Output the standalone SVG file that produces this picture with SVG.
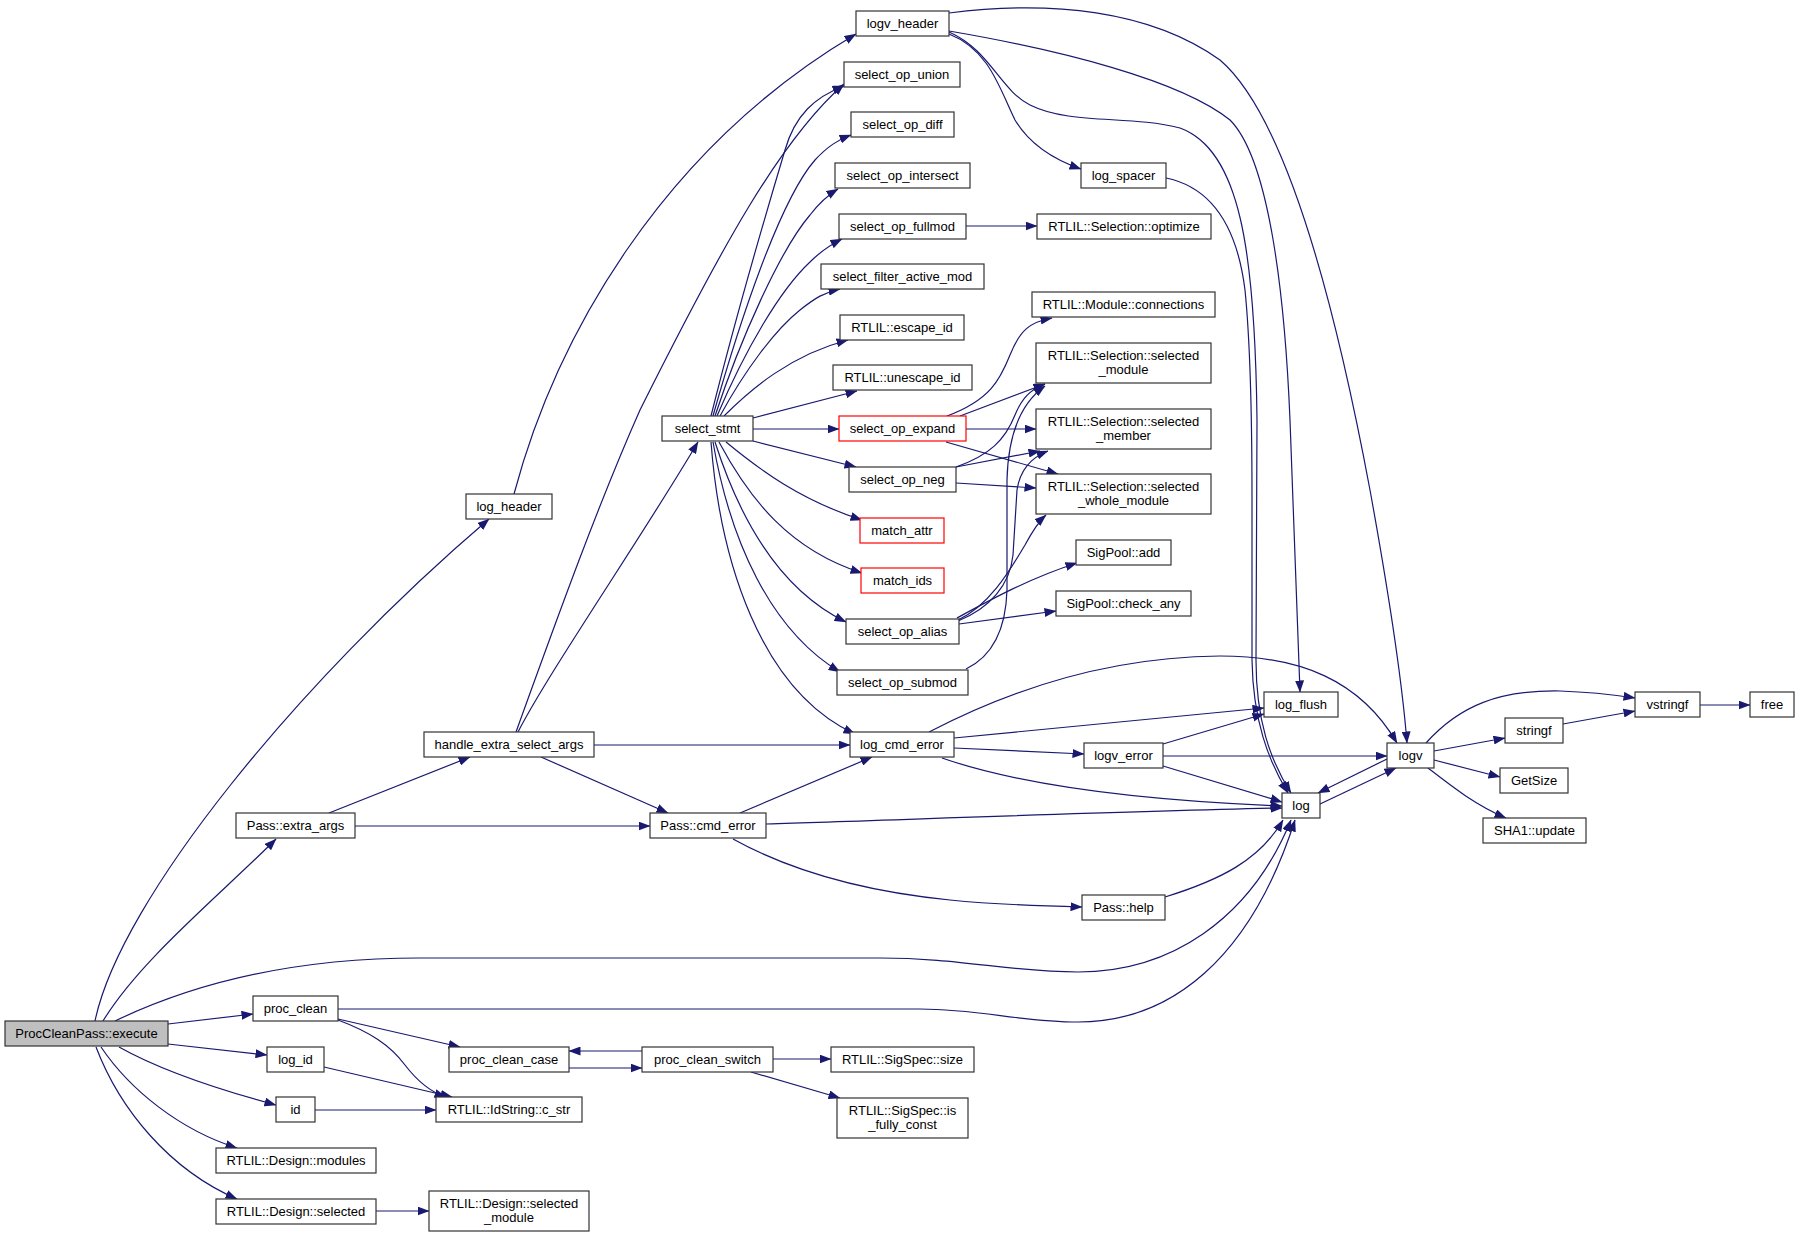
<svg xmlns="http://www.w3.org/2000/svg" width="1800" height="1237" viewBox="0 0 1800 1237">
<defs>
<style>
.n rect{fill:#ffffff;stroke:#333333;stroke-width:1.2}
.n.root rect{fill:#bfbfbf}
.n.red rect{stroke:#ff0000}
.n text{font-family:"Liberation Sans",Arial,sans-serif;font-size:13px;fill:#000000;text-anchor:middle}
#edges path{fill:none;stroke:#191970;stroke-width:1.2;marker-end:url(#arr)}
</style>
<marker id="arr" markerUnits="userSpaceOnUse" markerWidth="12" markerHeight="9" viewBox="0 0 12 9" refX="11.5" refY="4.5" orient="auto">
<path d="M0,0 L12,4.5 L0,9 z" fill="#191970"/>
</marker>
</defs>
<rect width="1800" height="1237" fill="#ffffff"/>
<g id="edges">
<path d="M95,1021 C120,900 300,680 489,519"/>
<path d="M103,1021 C140,960 220,895 276,839"/>
<path d="M115,1021 C190,985 290,958 420,958 L880,958 C960,958 1010,972 1078,972 C1170,972 1250,920 1291,820"/>
<path d="M168,1024 L253,1014"/>
<path d="M168,1044 L267,1055"/>
<path d="M119,1047 C160,1070 220,1090 276,1105"/>
<path d="M101,1047 C130,1090 180,1130 237,1148"/>
<path d="M96,1047 C120,1110 170,1170 237,1199"/>
<path d="M514,494 C555,340 660,150 856,34"/>
<path d="M516,732 C560,610 600,500 640,410 C720,250 780,140 844,84"/>
<path d="M518,732 C550,670 640,540 698,442"/>
<path d="M594,745 L850,745"/>
<path d="M541,757 L668,813"/>
<path d="M329,813 L470,757"/>
<path d="M355,826 L650,826"/>
<path d="M740,813 L872,757"/>
<path d="M766,824 C900,820 1100,812 1282,808"/>
<path d="M733,839 C780,865 850,890 950,900 C1000,905 1040,906 1082,907"/>
<path d="M1165,897 C1220,880 1260,860 1283,820"/>
<path d="M338,1009 L920,1009 C980,1009 1020,1022 1078,1022 C1170,1022 1250,960 1295,820"/>
<path d="M338,1019 L460,1047"/>
<path d="M338,1020 C370,1032 390,1045 405,1065 C418,1082 430,1092 446,1097"/>
<path d="M324,1067 L452,1097"/>
<path d="M315,1110 L436,1110"/>
<path d="M376,1211 L429,1211"/>
<path d="M569,1068 L642,1068"/>
<path d="M642,1051 L569,1051"/>
<path d="M773,1059 L831,1059"/>
<path d="M751,1072 L840,1098"/>
<path d="M711,416 C740,300 770,200 785,150 C795,115 815,97 844,86"/>
<path d="M713,416 C740,320 780,200 815,160 C828,146 838,140 851,135"/>
<path d="M715,416 C740,340 780,250 810,215 C820,202 828,195 838,189"/>
<path d="M717,416 C745,350 780,290 810,262 C820,252 830,245 842,239"/>
<path d="M720,416 C745,370 775,330 800,310 C815,298 825,292 840,289"/>
<path d="M724,416 C750,390 790,355 848,340"/>
<path d="M753,418 L857,391"/>
<path d="M753,429 L839,429"/>
<path d="M753,441 L856,467"/>
<path d="M726,442 C760,470 800,500 862,520"/>
<path d="M719,442 C750,500 790,550 862,573"/>
<path d="M715,442 C740,520 780,590 846,622"/>
<path d="M713,442 C730,540 770,630 840,672"/>
<path d="M711,442 C720,560 760,690 855,734"/>
<path d="M966,226 L1037,226"/>
<path d="M947,416 C990,400 1000,380 1010,355 C1020,330 1030,322 1052,318"/>
<path d="M960,416 L1045,384"/>
<path d="M966,429 L1036,429"/>
<path d="M946,442 L1058,474"/>
<path d="M956,467 C990,455 1005,440 1015,415 C1022,398 1030,390 1045,384"/>
<path d="M956,467 L1040,451"/>
<path d="M956,483 L1036,488"/>
<path d="M958,620 C990,605 1010,570 1025,545 C1032,532 1038,522 1046,515"/>
<path d="M958,621 C990,608 1010,585 1013,555 L1017,490 C1020,470 1030,458 1048,451"/>
<path d="M966,669 C995,655 1006,625 1007,590 L1007,480 C1008,440 1018,405 1045,386"/>
<path d="M957,618 C990,600 1030,578 1077,563"/>
<path d="M959,624 L1056,611"/>
<path d="M949,13 C1050,0 1150,10 1220,60 C1290,120 1340,330 1370,490 C1390,600 1402,680 1407,743"/>
<path d="M949,31 C1060,50 1180,80 1230,120 C1270,160 1285,300 1290,420 L1300,692"/>
<path d="M949,32 C990,50 1000,90 1030,105 C1070,125 1130,115 1180,128 C1240,150 1255,250 1257,420 L1256,660 C1256,720 1270,760 1291,793"/>
<path d="M949,34 C990,50 1000,90 1015,120 C1030,145 1055,160 1081,169"/>
<path d="M1166,178 C1200,185 1235,210 1245,290 C1251,350 1252,420 1252,500 L1252,660 C1253,720 1268,760 1288,793"/>
<path d="M929,732 C1000,695 1100,657 1220,656 C1300,656 1360,680 1397,743"/>
<path d="M954,738 L1264,708"/>
<path d="M954,748 L1084,754"/>
<path d="M942,758 C1020,785 1130,800 1282,806"/>
<path d="M1163,744 L1264,714"/>
<path d="M1163,756 L1387,756"/>
<path d="M1163,766 L1282,802"/>
<path d="M1387,759 L1318,793"/>
<path d="M1320,804 L1396,768"/>
<path d="M1426,743 C1460,705 1500,690 1560,691 C1590,692 1615,695 1635,698"/>
<path d="M1434,751 L1505,738"/>
<path d="M1563,724 L1635,711"/>
<path d="M1700,705 L1750,705"/>
<path d="M1434,760 L1500,777"/>
<path d="M1428,768 C1450,785 1475,805 1506,818"/>
</g>
<g id="n-logv_header" class="n"><rect x="856" y="11" width="93" height="25"/><text x="902.5" y="28">logv_header</text></g>
<g id="n-select_op_union" class="n"><rect x="844" y="62" width="116" height="25"/><text x="902" y="79">select_op_union</text></g>
<g id="n-select_op_diff" class="n"><rect x="851" y="112" width="103" height="25"/><text x="902.5" y="129">select_op_diff</text></g>
<g id="n-select_op_intersect" class="n"><rect x="835" y="163" width="135" height="25"/><text x="902.5" y="180">select_op_intersect</text></g>
<g id="n-select_op_fullmod" class="n"><rect x="839" y="214" width="127" height="25"/><text x="902.5" y="231">select_op_fullmod</text></g>
<g id="n-optimize" class="n"><rect x="1037" y="214" width="174" height="25"/><text x="1124" y="231">RTLIL::Selection::optimize</text></g>
<g id="n-log_spacer" class="n"><rect x="1081" y="163" width="85" height="25"/><text x="1123.5" y="180">log_spacer</text></g>
<g id="n-select_filter_active_mod" class="n"><rect x="821" y="264" width="163" height="25"/><text x="902.5" y="281">select_filter_active_mod</text></g>
<g id="n-escape_id" class="n"><rect x="840" y="315" width="124" height="25"/><text x="902" y="332">RTLIL::escape_id</text></g>
<g id="n-connections" class="n"><rect x="1032" y="292" width="183" height="25"/><text x="1123.5" y="309">RTLIL::Module::connections</text></g>
<g id="n-selected_module" class="n"><rect x="1036" y="343" width="175" height="40"/><text x="1123.5" y="359.5">RTLIL::Selection::selected</text><text x="1123.5" y="373.5">_module</text></g>
<g id="n-unescape_id" class="n"><rect x="833" y="365" width="139" height="25"/><text x="902.5" y="382">RTLIL::unescape_id</text></g>
<g id="n-select_stmt" class="n"><rect x="662" y="416" width="91" height="25"/><text x="707.5" y="433">select_stmt</text></g>
<g id="n-select_op_expand" class="n red"><rect x="839" y="416" width="127" height="25"/><text x="902.5" y="433">select_op_expand</text></g>
<g id="n-selected_member" class="n"><rect x="1036" y="409" width="175" height="40"/><text x="1123.5" y="425.5">RTLIL::Selection::selected</text><text x="1123.5" y="439.5">_member</text></g>
<g id="n-selected_whole_module" class="n"><rect x="1036" y="474" width="175" height="40"/><text x="1123.5" y="490.5">RTLIL::Selection::selected</text><text x="1123.5" y="504.5">_whole_module</text></g>
<g id="n-log_header" class="n"><rect x="466" y="494" width="86" height="25"/><text x="509" y="511">log_header</text></g>
<g id="n-select_op_neg" class="n"><rect x="849" y="467" width="107" height="25"/><text x="902.5" y="484">select_op_neg</text></g>
<g id="n-match_attr" class="n red"><rect x="860" y="518" width="84" height="25"/><text x="902" y="535">match_attr</text></g>
<g id="n-match_ids" class="n red"><rect x="861" y="568" width="83" height="25"/><text x="902.5" y="585">match_ids</text></g>
<g id="n-sigpool_add" class="n"><rect x="1076" y="540" width="95" height="25"/><text x="1123.5" y="557">SigPool::add</text></g>
<g id="n-sigpool_check_any" class="n"><rect x="1056" y="591" width="135" height="25"/><text x="1123.5" y="608">SigPool::check_any</text></g>
<g id="n-select_op_alias" class="n"><rect x="846" y="619" width="113" height="25"/><text x="902.5" y="636">select_op_alias</text></g>
<g id="n-select_op_submod" class="n"><rect x="837" y="670" width="131" height="25"/><text x="902.5" y="687">select_op_submod</text></g>
<g id="n-log_flush" class="n"><rect x="1264" y="692" width="74" height="25"/><text x="1301" y="709">log_flush</text></g>
<g id="n-handle_extra_select_args" class="n"><rect x="424" y="732" width="170" height="25"/><text x="509" y="749">handle_extra_select_args</text></g>
<g id="n-log_cmd_error" class="n"><rect x="850" y="732" width="104" height="25"/><text x="902" y="749">log_cmd_error</text></g>
<g id="n-logv_error" class="n"><rect x="1084" y="743" width="79" height="25"/><text x="1123.5" y="760">logv_error</text></g>
<g id="n-logv" class="n"><rect x="1387" y="743" width="47" height="25"/><text x="1410.5" y="760">logv</text></g>
<g id="n-vstringf" class="n"><rect x="1635" y="692" width="65" height="25"/><text x="1667.5" y="709">vstringf</text></g>
<g id="n-free" class="n"><rect x="1750" y="692" width="44" height="25"/><text x="1772" y="709">free</text></g>
<g id="n-stringf" class="n"><rect x="1505" y="718" width="58" height="25"/><text x="1534" y="735">stringf</text></g>
<g id="n-getsize" class="n"><rect x="1500" y="768" width="68" height="25"/><text x="1534" y="785">GetSize</text></g>
<g id="n-log" class="n"><rect x="1282" y="793" width="38" height="25"/><text x="1301" y="810">log</text></g>
<g id="n-sha1_update" class="n"><rect x="1483" y="818" width="103" height="25"/><text x="1534.5" y="835">SHA1::update</text></g>
<g id="n-extra_args" class="n"><rect x="236" y="813" width="119" height="25"/><text x="295.5" y="830">Pass::extra_args</text></g>
<g id="n-cmd_error" class="n"><rect x="650" y="813" width="116" height="25"/><text x="708" y="830">Pass::cmd_error</text></g>
<g id="n-help" class="n"><rect x="1082" y="895" width="83" height="25"/><text x="1123.5" y="912">Pass::help</text></g>
<g id="n-proc_clean" class="n"><rect x="253" y="996" width="85" height="25"/><text x="295.5" y="1013">proc_clean</text></g>
<g id="n-execute" class="n root"><rect x="5" y="1021" width="163" height="25"/><text x="86.5" y="1038">ProcCleanPass::execute</text></g>
<g id="n-log_id" class="n"><rect x="267" y="1047" width="57" height="25"/><text x="295.5" y="1064">log_id</text></g>
<g id="n-proc_clean_case" class="n"><rect x="449" y="1047" width="120" height="25"/><text x="509" y="1064">proc_clean_case</text></g>
<g id="n-proc_clean_switch" class="n"><rect x="642" y="1047" width="131" height="25"/><text x="707.5" y="1064">proc_clean_switch</text></g>
<g id="n-sigspec_size" class="n"><rect x="831" y="1047" width="143" height="25"/><text x="902.5" y="1064">RTLIL::SigSpec::size</text></g>
<g id="n-id" class="n"><rect x="276" y="1097" width="39" height="25"/><text x="295.5" y="1114">id</text></g>
<g id="n-c_str" class="n"><rect x="436" y="1097" width="146" height="25"/><text x="509" y="1114">RTLIL::IdString::c_str</text></g>
<g id="n-is_fully_const" class="n"><rect x="837" y="1098" width="131" height="40"/><text x="902.5" y="1114.5">RTLIL::SigSpec::is</text><text x="902.5" y="1128.5">_fully_const</text></g>
<g id="n-design_modules" class="n"><rect x="216" y="1148" width="160" height="25"/><text x="296" y="1165">RTLIL::Design::modules</text></g>
<g id="n-design_selected" class="n"><rect x="216" y="1199" width="160" height="25"/><text x="296" y="1216">RTLIL::Design::selected</text></g>
<g id="n-design_selected_module" class="n"><rect x="429" y="1191" width="160" height="40"/><text x="509" y="1207.5">RTLIL::Design::selected</text><text x="509" y="1221.5">_module</text></g>
</svg>
